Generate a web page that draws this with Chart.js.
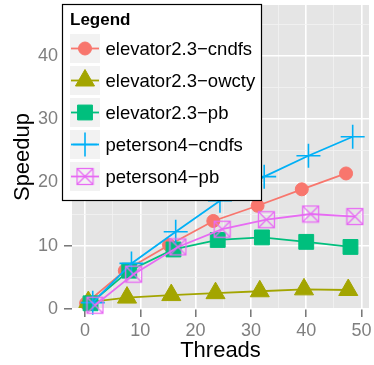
<!DOCTYPE html>
<html>
<head>
<meta charset="utf-8">
<script src="https://cdn.jsdelivr.net/npm/chart.js@4/dist/chart.umd.min.js"></script>
<style>
  body { margin: 0; background: #fff; }
</style>
</head>
<body>
<canvas id="chart" width="374" height="365"></canvas>
<script>
// thread counts and the small dodge ggplot put between the series
var threads = [1, 8, 16, 24, 32, 40, 48];
var dodge = [-0.8, -0.4, 0, 0.4, 0.8];

var seriesNames = ["elevator2.3\u2212cndfs", "elevator2.3\u2212owcty", "elevator2.3\u2212pb",
                   "peterson4\u2212cndfs", "peterson4\u2212pb"];
var elevatorCndfs = [0.9, 6.05, 10.1, 13.9, 16.3, 18.9, 21.4];
var elevatorOwcty = [1.1, 1.8, 2.2, 2.5, 2.8, 3.1, 3.0];
var elevatorPb    = [0.9, 6.05, 9.4, 10.9, 11.3, 10.6, 9.8];
var petersonCndfs = [1.0, 7.2, 12.2, 17.1, 20.9, 24.2, 27.2];
var petersonPb    = [0.6, 5.5, 9.8, 12.6, 14.1, 15.0, 14.6];

var xTicks = [0, 5, 10, 15, 20, 25, 30, 35, 40, 45, 50];
var yTicks = [0, 5, 10, 15, 20, 25, 30, 35, 40, 45];

var colors = ["#F8766D", "#A3A500", "#00BF7D", "#00B0F6", "#E76BF3"];
var FONT = '"Liberation Sans", Arial, sans-serif';

// square with an X, like ggplot shape 7
function boxedX(color) {
    var c = document.createElement("canvas");
    c.width = 19; c.height = 19;
    var g = c.getContext("2d");
    g.strokeStyle = color;
    g.lineWidth = 1.3;
    g.strokeRect(1.5, 1.5, 16, 16);
    g.beginPath();
    g.moveTo(1.5, 1.5); g.lineTo(17.5, 17.5);
    g.moveTo(17.5, 1.5); g.lineTo(1.5, 17.5);
    g.stroke();
    return c;
}

var allValues = [elevatorCndfs, elevatorOwcty, elevatorPb, petersonCndfs, petersonPb];
var styles = ["circle", "triangle", "rect", "cross", boxedX(colors[4])];
var radii = [6.5, 11, 10.5, 12, 9];
var pointBorders = [1, 1, 1, 1.6, 0];

var datasets = allValues.map(function(vals, k) {
    return {
        label: seriesNames[k],
        data: threads.map(function(t, i) { return {x: t + dodge[k], y: vals[i]}; }),
        borderColor: colors[k],
        backgroundColor: colors[k],
        borderWidth: 1.8,
        pointStyle: styles[k],
        pointRadius: radii[k],
        pointBorderWidth: pointBorders[k],
        tension: 0,
        fill: false,
        clip: false,
        order: 5 - k
    };
});

function isMajor(ctx) { return ctx.tick && ctx.tick.value % 10 === 0; }

function drawMarker(ctx, style, r, x, y, color, bw) {
    ctx.fillStyle = color;
    ctx.strokeStyle = color;
    ctx.lineWidth = bw;
    ctx.beginPath();
    if (style === "circle") {
        ctx.arc(x, y, r, 0, Math.PI * 2);
        ctx.fill(); ctx.stroke();
    } else if (style === "triangle") {
        ctx.moveTo(x, y - r);
        ctx.lineTo(x + r * Math.sin(2 * Math.PI / 3), y - r * Math.cos(2 * Math.PI / 3));
        ctx.lineTo(x + r * Math.sin(4 * Math.PI / 3), y - r * Math.cos(4 * Math.PI / 3));
        ctx.closePath();
        ctx.fill(); ctx.stroke();
    } else if (style === "rect") {
        var s = r * Math.SQRT1_2;
        ctx.rect(x - s, y - s, 2 * s, 2 * s);
        ctx.fill(); ctx.stroke();
    } else if (style === "cross") {
        ctx.moveTo(x - r, y); ctx.lineTo(x + r, y);
        ctx.moveTo(x, y - r); ctx.lineTo(x, y + r);
        ctx.stroke();
    } else {
        ctx.drawImage(style, x - style.width / 2, y - style.height / 2);
    }
}

var panelBg = {
    id: "panelBg",
    beforeDraw: function(chart) {
        var a = chart.chartArea, ctx = chart.ctx;
        ctx.save();
        ctx.fillStyle = "#E5E5E5";
        ctx.fillRect(a.left, a.top, a.right - a.left, a.bottom - a.top);
        ctx.restore();
    }
};

var boxLegend = {
    id: "boxLegend",
    afterDraw: function(chart) {
        var ctx = chart.ctx;
        ctx.save();
        ctx.fillStyle = "#fff";
        ctx.fillRect(62, 4, 200, 197);
        ctx.strokeStyle = "#000";
        ctx.lineWidth = 1.2;
        ctx.strokeRect(62.5, 4.5, 199, 196);
        ctx.fillStyle = "#000";
        ctx.font = "bold 17px " + FONT;
        ctx.textBaseline = "alphabetic";
        ctx.fillText("Legend", 70, 25);
        chart.data.datasets.forEach(function(ds, i) {
            var cy = 48.5 + i * 32;
            ctx.fillStyle = "#F2F2F2";
            ctx.fillRect(70, cy - 14.5, 30, 29);
            ctx.strokeStyle = ds.borderColor;
            ctx.lineWidth = 1.8;
            ctx.beginPath();
            ctx.moveTo(71, cy); ctx.lineTo(99, cy);
            ctx.stroke();
            drawMarker(ctx, ds.pointStyle, ds.pointRadius, 85, cy, ds.borderColor, ds.pointBorderWidth);
            ctx.fillStyle = "#000";
            ctx.font = "18.5px " + FONT;
            ctx.fillText(ds.label, 105.5, cy + 6.5);
        });
        ctx.restore();
    }
};

var ctx = document.getElementById("chart");
var chart = new Chart(ctx, {
    type: "line",
    data: { datasets: datasets },
    options: {
        responsive: false,
        animation: false,
        events: [],
        layout: { autoPadding: false, padding: { top: 5, right: 5, left: 0, bottom: 0 } },
        plugins: {
            legend: { display: false },
            tooltip: { enabled: false }
        },
        scales: {
            x: {
                type: "linear",
                min: -2.35,
                max: 51.35,
                afterBuildTicks: function(s) { s.ticks = xTicks.map(function(v) { return {value: v}; }); },
                afterFit: function(s) { s.height = 56; s.paddingLeft = 0; s.paddingRight = 0; },
                border: { display: false },
                grid: {
                    color: function(c) { return isMajor(c) ? "#fff" : "#F2F2F2"; },
                    lineWidth: function(c) { return isMajor(c) ? 1.6 : 0.8; },
                    tickColor: function(c) { return isMajor(c) ? "#6b6b6b" : "rgba(0,0,0,0)"; },
                    tickLength: 8,
                    tickWidth: 1.4
                },
                ticks: {
                    autoSkip: false,
                    maxRotation: 0,
                    padding: 3,
                    color: "#7F7F7F",
                    font: { family: FONT, size: 18 },
                    callback: function(v) { return v % 10 === 0 ? v : ""; }
                },
                title: {
                    display: true,
                    text: "Threads",
                    color: "#000",
                    font: { family: FONT, size: 22 },
                    padding: { top: 0, bottom: 0.8 }
                }
            },
            y: {
                min: 0,
                max: 48,
                afterBuildTicks: function(s) { s.ticks = yTicks.map(function(v) { return {value: v}; }); },
                afterFit: function(s) { s.width = 72; s.paddingTop = 0; s.paddingBottom = 0; },
                border: { display: false },
                grid: {
                    color: function(c) { return isMajor(c) ? "#fff" : "#F2F2F2"; },
                    lineWidth: function(c) { return isMajor(c) ? 1.6 : 0.8; },
                    tickColor: function(c) { return isMajor(c) ? "#6b6b6b" : "rgba(0,0,0,0)"; },
                    tickLength: 8,
                    tickWidth: 1.4
                },
                ticks: {
                    autoSkip: false,
                    padding: 6,
                    color: "#7F7F7F",
                    font: { family: FONT, size: 18 },
                    callback: function(v) { return v % 10 === 0 ? v : ""; }
                },
                title: {
                    display: true,
                    text: "Speedup",
                    color: "#000",
                    font: { family: FONT, size: 22 },
                    padding: { top: 9.3, bottom: 0 }
                }
            }
        }
    },
    plugins: [panelBg, boxLegend]
});
</script>
</body>
</html>
